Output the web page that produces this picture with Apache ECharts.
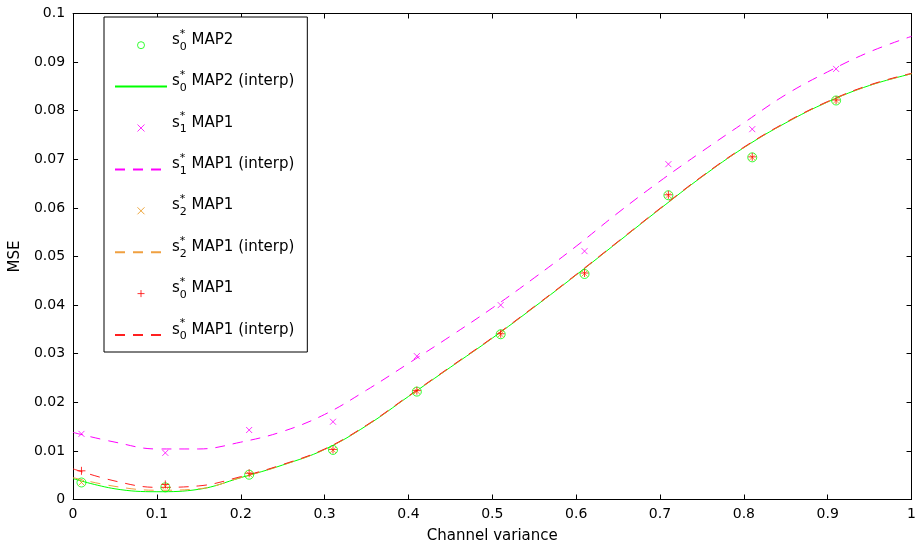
<!DOCTYPE html>
<html>
<head>
<meta charset="utf-8">
<script src="https://cdn.jsdelivr.net/npm/echarts@6/dist/echarts.min.js"></script>
<style>
html,body{margin:0;padding:0;background:#fff;}
#chart{width:919px;height:554px;}
</style>
</head>
<body>
<div id="chart"></div>
<script>
// sample points (channel variance)
const xPts = [0.01, 0.11, 0.21, 0.31, 0.41, 0.51, 0.61, 0.71, 0.81, 0.91];
const map2S0 = [0.0035, 0.0025, 0.0051, 0.0102, 0.0222, 0.0340, 0.0464, 0.0626, 0.0704, 0.0821];
const map1S1 = [0.0135, 0.0096, 0.0143, 0.0160, 0.0295, 0.0400, 0.0511, 0.0690, 0.0762, 0.0886];
const map1S2 = [0.0035, 0.0027, 0.0052, 0.0102, 0.0223, 0.0340, 0.0465, 0.0626, 0.0704, 0.0821];
const map1S0 = [0.0059, 0.0031, 0.0054, 0.0103, 0.0224, 0.0341, 0.0466, 0.0627, 0.0705, 0.0822];

// interpolated curves
const xInterp = [0, 0.05, 0.1, 0.15, 0.2, 0.25, 0.3, 0.35, 0.4, 0.45, 0.5, 0.55, 0.6, 0.65, 0.7, 0.75, 0.8, 0.85, 0.9, 0.95, 1];
const map2S0Interp = [0.0043, 0.0022, 0.0016, 0.0021, 0.0045, 0.0071, 0.0103, 0.0152, 0.0212, 0.0272, 0.0332, 0.0396, 0.0462, 0.0530, 0.0598, 0.0664, 0.0724, 0.0775, 0.0818, 0.0852, 0.0876];
const map1S1Interp = [0.0138, 0.0118, 0.0104, 0.0104, 0.0118, 0.0140, 0.0175, 0.0225, 0.0280, 0.0336, 0.0394, 0.0456, 0.0521, 0.0590, 0.0655, 0.0716, 0.0775, 0.0833, 0.0880, 0.0921, 0.0953];
const map1S2Interp = [0.0045, 0.0027, 0.0019, 0.0022, 0.0045, 0.0071, 0.0103, 0.0152, 0.0212, 0.0272, 0.0332, 0.0396, 0.0462, 0.0530, 0.0598, 0.0664, 0.0724, 0.0775, 0.0818, 0.0852, 0.0876];
const map1S0Interp = [0.0063, 0.0038, 0.0025, 0.0028, 0.0047, 0.0072, 0.0104, 0.0153, 0.0213, 0.0273, 0.0333, 0.0397, 0.0463, 0.0531, 0.0599, 0.0665, 0.0725, 0.0776, 0.0819, 0.0853, 0.0877];

// legend labels: "s<sub> <suffix>"
const seriesNames = ['s0 MAP2', 's0 MAP2 (interp)', 's1 MAP1', 's1 MAP1 (interp)', 's2 MAP1', 's2 MAP1 (interp)', 's0 MAP1', 's0 MAP1 (interp)'];
const xAxisName = 'Channel variance';
const yAxisName = 'MSE';

const FONT = 'DejaVu Sans';
const pair = (xs, ys) => xs.map((x, i) => [x, ys[i]]);
const fmt = v => v === 0 ? '0' : String(parseFloat(v.toFixed(3)));

const X_PATH = 'path://M0,0L10,10M10,0L0,10';
const PLUS_PATH = 'path://M5,0L5,10M0,5L10,5';
const DASH = [10, 8];

function scatter(name, ys, symbol, size, color) {
  return {
    name, type: 'scatter', data: pair(xPts, ys), symbol, symbolSize: size,
    itemStyle: {color: 'rgba(0,0,0,0)', borderColor: color, borderWidth: 1},
    emphasis: {disabled: true}, z: 3
  };
}
function curve(name, ys, color, type) {
  return {
    name, type: 'line', data: pair(xInterp, ys), symbol: 'none', showSymbol: false,
    smooth: 0.4, lineStyle: {color, width: 1, type}, itemStyle: {color},
    emphasis: {disabled: true}, z: 2
  };
}

const axisCommon = {
  type: 'value', min: 0,
  axisLine: {show: true, onZero: false, lineStyle: {color: '#000', width: 1}},
  axisTick: {show: true, inside: true, length: 5, lineStyle: {color: '#000'}},
  splitLine: {show: false},
  nameTextStyle: {fontFamily: FONT, fontSize: 15, color: '#000'}
};

const legendData = seriesNames.map(n => n.indexOf('interp') > -1
  ? {name: n, itemStyle: {color: 'rgba(0,0,0,0)', borderWidth: 0, opacity: 0}}
  : {name: n, itemStyle: {borderWidth: 1}});

const LH = 34;
const chart = echarts.init(document.getElementById('chart'), null, {renderer: 'canvas'});
chart.setOption({
  animation: false,
  backgroundColor: '#fff',
  grid: {left: 72.5, right: 6, top: 13.5, bottom: 54.5, containLabel: false},
  xAxis: [
    Object.assign({}, axisCommon, {position: 'bottom', max: 1, interval: 0.1,
      name: xAxisName, nameLocation: 'middle', nameGap: 29,
      axisLabel: {formatter: fmt, fontFamily: FONT, fontSize: 14, color: '#000', margin: 8}}),
    Object.assign({}, axisCommon, {position: 'top', max: 1, interval: 0.1, axisLabel: {show: false}})
  ],
  yAxis: [
    Object.assign({}, axisCommon, {position: 'left', max: 0.1, interval: 0.01,
      name: yAxisName, nameLocation: 'middle', nameGap: 41,
      axisLabel: {formatter: fmt, fontFamily: FONT, fontSize: 14, color: '#000', margin: 8}}),
    Object.assign({}, axisCommon, {position: 'right', max: 0.1, interval: 0.01, axisLabel: {show: false}})
  ],
  legend: {
    orient: 'vertical', left: 104, top: 17,
    padding: [11.2, 13, 0, 10], itemGap: 7.4, itemWidth: 52, itemHeight: 7,
    backgroundColor: '#fff', borderColor: '#000', borderWidth: 1,
    selectedMode: false, z: 10,
    data: legendData,
    formatter: name => '{b|s}{sup|*}{sub|' + name.charAt(1) + '}{b| ' + name.slice(3) + '}',
    textStyle: {
      fontFamily: FONT, fontSize: 15, color: '#000', lineHeight: LH,
      rich: {
        b: {fontFamily: FONT, fontSize: 15, color: '#000', lineHeight: LH, verticalAlign: 'top', padding: [4.3, 0, 0, 0]},
        sup: {fontFamily: FONT, fontSize: 11, color: '#000', verticalAlign: 'top', lineHeight: LH, width: 0},
        sub: {fontFamily: FONT, fontSize: 11, color: '#000', verticalAlign: 'middle', lineHeight: LH, padding: [3, 0, 0, 0]}
      }
    }
  },
  series: [
    scatter(seriesNames[0], map2S0, 'circle', 9, '#00ff00'),
    curve(seriesNames[1], map2S0Interp, '#00ff00', 'solid'),
    scatter(seriesNames[2], map1S1, X_PATH, 6, '#ff00ff'),
    curve(seriesNames[3], map1S1Interp, '#ff00ff', DASH),
    scatter(seriesNames[4], map1S2, X_PATH, 6, '#e8900c'),
    curve(seriesNames[5], map1S2Interp, '#f0a040', DASH),
    scatter(seriesNames[6], map1S0, PLUS_PATH, 8, '#ff0000'),
    curve(seriesNames[7], map1S0Interp, '#ff2020', DASH)
  ]
});
</script>
</body>
</html>
